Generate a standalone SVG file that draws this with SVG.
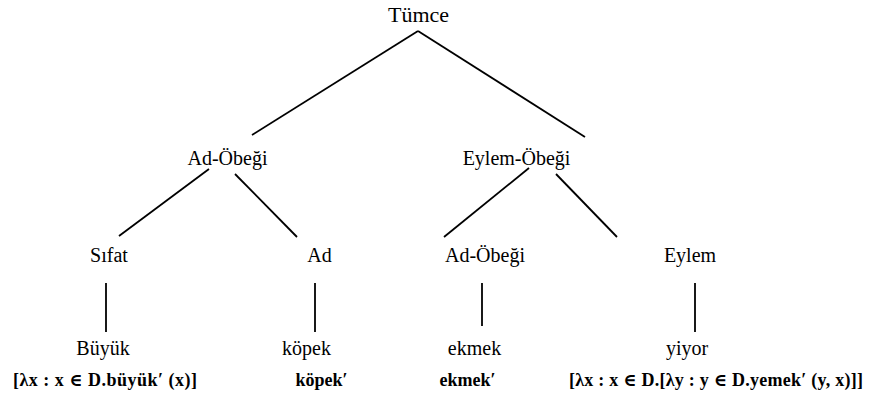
<svg xmlns="http://www.w3.org/2000/svg" width="871" height="401" viewBox="0 0 871 401">
<style>
.n{font-family:'Liberation Serif','Times New Roman',Tinos,'DejaVu Serif',serif;font-size:20px;fill:#000;text-anchor:middle}
.s{font-family:'Liberation Serif','Times New Roman',Tinos,'DejaVu Serif',serif;font-size:18px;font-weight:bold;fill:#000;text-anchor:middle}
.e{stroke:#000;stroke-width:1.8;fill:none}
</style>
<rect width="871" height="401" fill="#fff"/>
<g id="connectors">
<line class="e" x1="418" y1="31" x2="252" y2="135"/>
<line class="e" x1="418" y1="31" x2="585" y2="137"/>
<line class="e" x1="209" y1="169" x2="119" y2="236"/>
<line class="e" x1="235" y1="174" x2="297" y2="237"/>
<line class="e" x1="529" y1="168" x2="444" y2="237"/>
<line class="e" x1="556" y1="174" x2="617" y2="237"/>
<line class="e" x1="106" y1="283" x2="106" y2="332"/>
<line class="e" x1="315" y1="283" x2="315" y2="332"/>
<line class="e" x1="482" y1="283" x2="482" y2="326"/>
<line class="e" x1="695" y1="283" x2="695" y2="332"/>
</g>
<g id="tumce"><text class="n" x="418.5" y="22" style="font-size:22px">Tümce</text></g>
<g id="adobegi1"><text class="n" x="227.5" y="165">Ad-Öbeği</text></g>
<g id="eylemobegi"><text class="n" x="516.5" y="165">Eylem-Öbeği</text></g>
<g id="sifat"><text class="n" x="109" y="262">Sıfat</text></g>
<g id="ad"><text class="n" x="319.5" y="262">Ad</text></g>
<g id="adobegi2"><text class="n" x="485" y="262">Ad-Öbeği</text></g>
<g id="eylem"><text class="n" x="690" y="262">Eylem</text></g>
<g id="buyuk"><text class="n" x="103" y="355">Büyük</text><text class="s" x="105" y="386" textLength="184" lengthAdjust="spacing">[λx : x ∈ D.büyük′ (x)]</text></g>
<g id="kopek"><text class="n" x="306.5" y="355">köpek</text><text class="s" x="321.5" y="386">köpek′</text></g>
<g id="ekmek"><text class="n" x="474.5" y="355">ekmek</text><text class="s" x="467.5" y="386">ekmek′</text></g>
<g id="yiyor"><text class="n" x="687" y="355">yiyor</text><text class="s" x="716" y="386" textLength="294" lengthAdjust="spacing">[λx : x ∈ D.[λy : y ∈ D.yemek′ (y, x)]]</text></g>
</svg>
